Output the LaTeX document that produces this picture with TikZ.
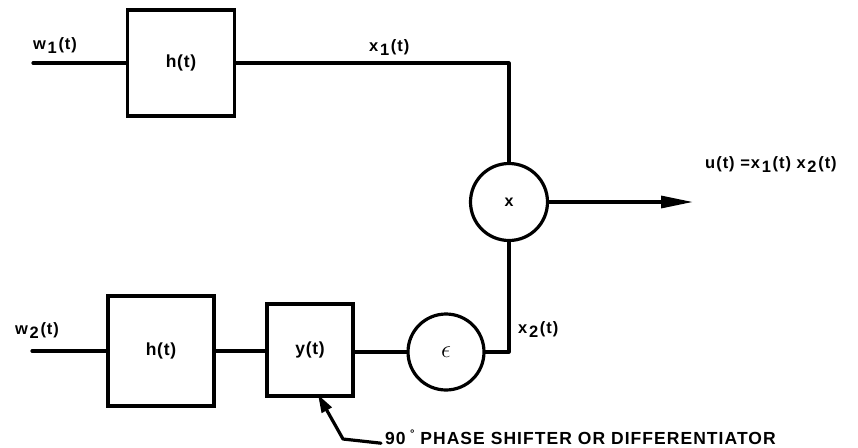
\documentclass[tikz,border=0pt]{standalone}
\usepackage{fontspec}
\setmainfont{Liberation Sans}
\usetikzlibrary{arrows.meta}
\newcommand\sbs[1]{\kern0.1em\raisebox{-0.3em}{#1}\kern0.1em}
\begin{document}
\begin{tikzpicture}[x=1pt,y=-1pt,
  wire/.style={line width=3.2pt, line cap=round, line join=round},
  blk/.style={draw, line width=3.2pt, inner sep=0pt,
    font=\bfseries\fontsize{17.5}{20}\selectfont\addfontfeatures{LetterSpace=4}},
  circ/.style={draw, circle, line width=3.2pt, inner sep=0pt},
  lbl/.style={inner sep=0pt, anchor=base west,
    font=\bfseries\fontsize{16.5}{19}\selectfont\addfontfeatures{LetterSpace=6}},
  captxt/.style={inner sep=0pt, anchor=base west,
    font=\bfseries\fontsize{17.5}{21}\selectfont\addfontfeatures{LetterSpace=6}}]
\useasboundingbox (0,0) rectangle (858,447);
% top branch
\node[blk, minimum width=107pt, minimum height=106pt] (h1) at (181,63) {h(t)};
\coordinate (w1in) at (33,63);
\node[lbl] (w1lab) at (33,49) {w\sbs{1}(t)};
\node[lbl] (x1lab) at (369,51) {x\sbs{1}(t)};
% multiplier
\node[circ, minimum size=77pt, font=\bfseries\fontsize{16}{18}\selectfont] (mult) at (509,202) {x};
\coordinate (out) at (693,202);
\node[lbl] (ulab) at (705,168) {u(t) =x\sbs{1}(t) x\sbs{2}(t)};
% bottom branch
\node[blk, minimum width=106pt, minimum height=110pt] (h2) at (161,351) {h(t)};
\node[blk, minimum width=86pt, minimum height=92pt] (yb) at (310,350) {y(t)};
\node[circ, minimum size=76pt, font=\fontsize{24}{26}\selectfont] (eps) at (446,352) {$\epsilon$};
\coordinate (w2in) at (32,351);
\node[lbl] (w2lab) at (15,334) {w\sbs{2}(t)};
\node[lbl] (x2lab) at (518,333) {x\sbs{2}(t)};
% caption and pointer
\node[captxt] (caption) at (385,444) {90\kern0.25em\raisebox{0.35em}{\fontsize{11}{12}\selectfont\textdegree}\ PHASE SHIFTER OR DIFFERENTIATOR};
\coordinate (bend) at (343,439);
\coordinate (tip) at ([xshift=8pt,yshift=3pt]yb.south);
% connectors
\draw[wire] (w1in) -- (h1.west);
\draw[wire] (h1.east) -| (mult.north);
\draw[wire, -{Triangle[length=32pt,width=12pt]}] (mult.east) -- (out);
\draw[wire] (w2in) -- (h2.west);
\draw[wire] (h2.east) -- (h2.east -| yb.west);
\draw[wire] (yb.east |- eps.west) -- (eps.west);
\draw[wire] (eps.east) -| (mult.south);
\draw[wire, -{Triangle[length=18pt,width=11pt]}] ([xshift=-4pt,yshift=-6pt]caption.west) -- (bend) -- (tip);
\end{tikzpicture}
\end{document}
